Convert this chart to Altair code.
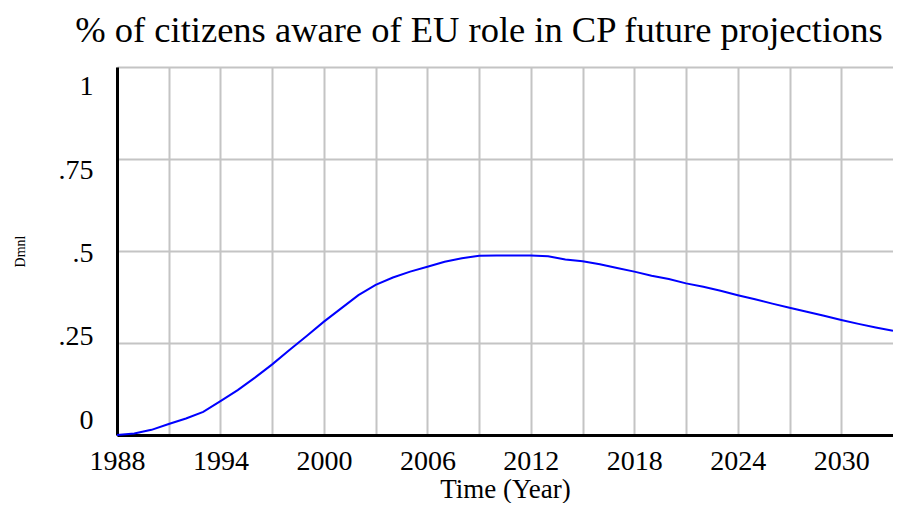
import altair as alt
import pandas as pd

title_text = "% of citizens aware of EU role in CP future projections"
x_title = "Time (Year)"
y_title = "Dmnl"

years = list(range(1988, 2034))
values = [
    0.000, 0.004, 0.014, 0.030, 0.045, 0.063, 0.092, 0.122, 0.156, 0.192,
    0.231, 0.269, 0.308, 0.344, 0.380, 0.408, 0.428, 0.444, 0.457, 0.471,
    0.480, 0.487, 0.488, 0.488, 0.488, 0.486, 0.477, 0.472, 0.464, 0.454,
    0.444, 0.433, 0.424, 0.412, 0.403, 0.392, 0.380, 0.369, 0.357, 0.346,
    0.335, 0.324, 0.3125, 0.302, 0.292, 0.283,
]

x_grid_years = [1988, 1991, 1994, 1997, 2000, 2003, 2006, 2009, 2012, 2015,
                2018, 2021, 2024, 2027, 2030]
x_label_years = [1988, 1994, 2000, 2006, 2012, 2018, 2024, 2030]
y_ticks = [0, 0.25, 0.5, 0.75, 1]
y_label_offsets = [-15, -7, 2, 11, 19]

df = pd.DataFrame({"year": years, "value": values})

x_label_expr = " || ".join(f"datum.value == {v}" for v in x_label_years)
x_label_expr = f"({x_label_expr}) ? datum.label : ''"

y_offset_cond = {
    "condition": [
        {"test": f"abs(datum.value - {v}) < 0.001", "value": o}
        for v, o in zip(y_ticks, y_label_offsets)
    ],
    "value": 0,
}

font = "Liberation Serif"
title_font = "Times New Roman"
grid_color = "#c4c4c4"

chart = (
    alt.Chart(df)
    .mark_line(color="#0000FF", strokeWidth=2)
    .encode(
        x=alt.X(
            "year:Q",
            scale=alt.Scale(domain=[1988, 2033], nice=False, zero=False),
            axis=alt.Axis(
                values=x_grid_years,
                format="d",
                labelExpr=x_label_expr,
                title=x_title,
                grid=True,
                gridColor=grid_color,
                gridWidth=2,
                gridOpacity=1,
                ticks=False,
                labelPadding=12,
                labelFontSize=28,
                labelFont=font,
                labelColor="black",
                titleFont=font,
                titleFontSize=27,
                titleFontWeight="normal",
                titleColor="black",
                titlePadding=1,
                domainColor="black",
                domainWidth=3,
                labelFlush=False,
                labelOverlap=False,
            ),
        ),
        y=alt.Y(
            "value:Q",
            scale=alt.Scale(domain=[0, 1], nice=False),
            axis=alt.Axis(
                values=y_ticks,
                labelExpr="replace(toString(datum.value), '0.', '.')",
                title=y_title,
                grid=True,
                gridColor=grid_color,
                gridWidth=2,
                gridOpacity=1,
                ticks=False,
                labelPadding=24,
                labelFontSize=28,
                labelFont=font,
                labelColor="black",
                labelBaseline="middle",
                labelOffset=y_offset_cond,
                labelFlush=False,
                labelOverlap=False,
                titleFont=font,
                titleFontSize=14,
                titleFontWeight="normal",
                titleColor="black",
                titleAngle=270,
                titleX=-97,
                titleY=184,
                titleAlign="center",
                titleBaseline="middle",
                domainColor="black",
                domainWidth=3,
            ),
        ),
    )
    .properties(
        width=776,
        height=368,
        padding={"left": 109, "top": 59, "right": 0, "bottom": 68},
        autosize=alt.AutoSizeParams(type="none"),
        title=alt.TitleParams(
            text=title_text,
            font=title_font,
            fontSize=36.5,
            fontWeight="normal",
            color="black",
            anchor="middle",
            dx=-26,
            offset=18,
        ),
    )
    .configure_title(font=title_font, fontWeight="normal")
    .configure_view(stroke="black", strokeWidth=2)
    .configure(background="white")
)

chart.save("out.html", embed_options={"renderer": "svg", "actions": False})
